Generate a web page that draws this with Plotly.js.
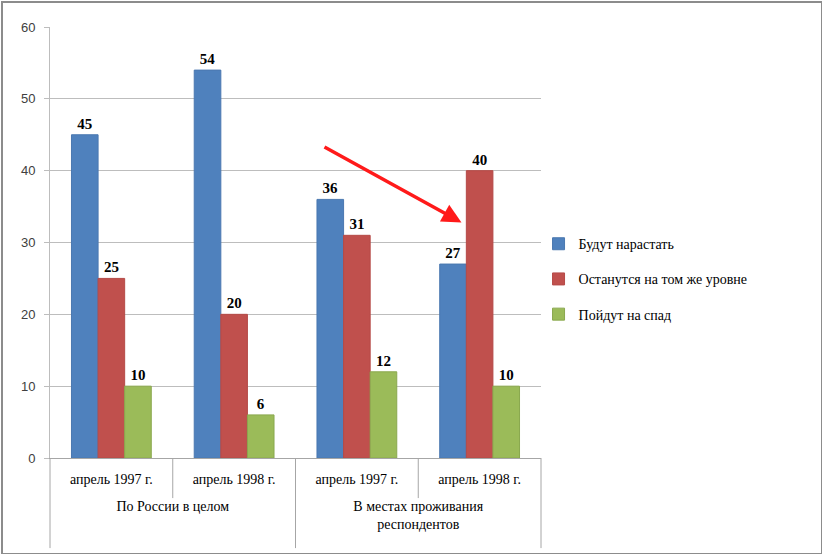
<!DOCTYPE html>
<html><head><meta charset="utf-8">
<script src="https://cdn.plot.ly/plotly-3.0.1.min.js"></script>
<style>
html,body{margin:0;padding:0;background:#fff;}
#wrap{position:relative;width:822px;height:554px;}
#chart{width:822px;height:554px;}
#frame{position:absolute;left:1px;top:1px;width:818px;height:550px;border:2px solid #8c8c8c;pointer-events:none;}
</style></head>
<body>
<div id="wrap"><div id="chart"></div><div id="frame"></div></div>
<script>
const groups = ["<br>По России в целом","<br>По России в целом","<br>В местах проживания<br>респондентов","<br>В местах проживания<br>респондентов"];
const periods = ["апрель 1997 г.","апрель 1998 г.","апрель 1997 г.","апрель 1998 г."];
const seriesNames = ["Будут нарастать","Останутся на том же уровне","Пойдут на спад"];
const growValues = [45, 54, 36, 27];
const sameValues = [25, 20, 31, 40];
const fallValues = [10, 6, 12, 10];
const colors = ["#4F81BD","#C0504D","#9BBB59"];
const lineColors = ["#4a78b0","#b54a47","#8aa84e"];
const yTicks = [0,10,20,30,40,50,60];

const SERIF = '"Liberation Serif", "Times New Roman", Tinos, "DejaVu Serif", "Noto Serif", serif';
const allValues = [growValues, sameValues, fallValues];
const traces = allValues.map((vals,i)=>({
  type:'bar',
  name: seriesNames[i],
  x:[groups, periods],
  y: vals,
  text: vals.map(String),
  textposition:'outside',
  cliponaxis:false,
  textfont:{family:SERIF, size:15, color:'#000', weight:'bold'},
  marker:{color:colors[i], line:{color:lineColors[i], width:1}},
  legendgroup:'g'+i
}));

const divColor = '#a6a6a6';
function vline(x, ybot){
  return {type:'line', xref:'paper', yref:'paper', x0:x, x1:x, y0:0, y1:ybot,
    line:{color:divColor, width:1}};
}

const layout = {
  width:822, height:554,
  margin:{l:50, r:281, t:27, b:96},
  paper_bgcolor:'#fff', plot_bgcolor:'#fff',
  font:{family:SERIF, size:14, color:'#000'},
  barmode:'group',
  bargap:0.35, bargroupgap:0,
  showlegend:true,
  legend:{x:0.995, xanchor:'left', y:0.415, yanchor:'middle',
    font:{family:SERIF, size:14, color:'#000'},
    tracegroupgap:14, itemwidth:30, bgcolor:'rgba(0,0,0,0)'},
  xaxis:{type:'multicategory',
    tickfont:{family:SERIF, size:14, color:'#000'},
    showdividers:false,
    ticklabelstandoff:8,
    showline:true, linecolor:divColor, linewidth:1,
    ticks:'', showgrid:false, zeroline:false},
  yaxis:{range:[0,60], tickvals:yTicks, ticktext:yTicks.map(String),
    tickfont:{family:'"Liberation Sans", Arial, sans-serif', size:13, color:'#404040'},
    showgrid:true, gridcolor:'#bdbdbd', gridwidth:1,
    showline:true, linecolor:'#bdbdbd', linewidth:1,
    ticks:'outside', ticklen:5, tickcolor:'#bdbdbd',
    zeroline:false, ticklabelstandoff:6},
  shapes:[vline(0,-0.209), vline(0.25,-0.093), vline(0.5,-0.209), vline(0.75,-0.093), vline(1,-0.209)],
  annotations:[{
    xref:'paper', yref:'y', x:0.838, y:32.8,
    axref:'paper', ayref:'y', ax:0.556, ay:43.4,
    showarrow:true, arrowhead:2, arrowsize:1.1, arrowwidth:3.5, arrowcolor:'#ff1a1a', text:''
  }]
};

Plotly.newPlot('chart', traces, layout, {displayModeBar:false, staticPlot:true});
</script>
</body></html>
